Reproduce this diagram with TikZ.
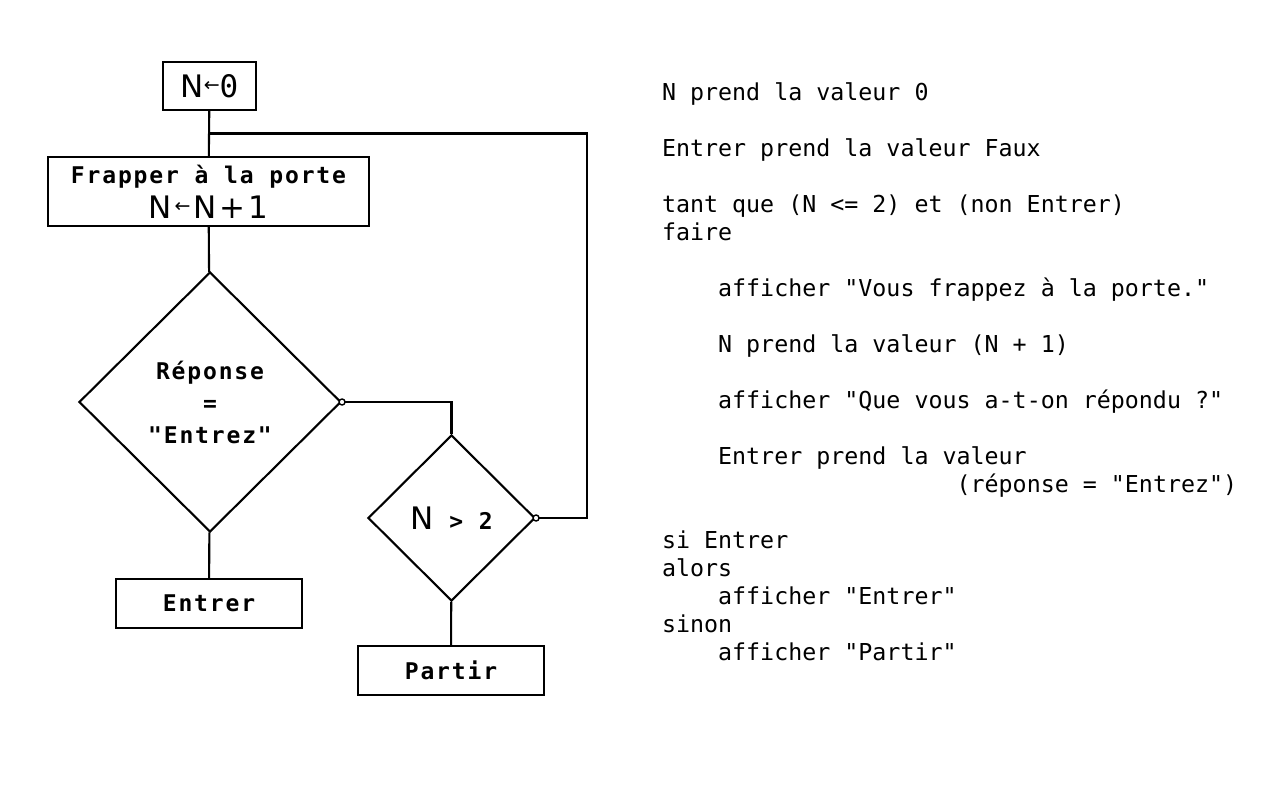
\documentclass[tikz,border=0pt]{standalone}
\usepackage{fontspec}
\setmainfont{DejaVu Sans}
\newfontfamily\codefont{DejaVu Sans Mono}
\newfontfamily\chartfont[LetterSpace=8]{DejaVu Sans Mono}
\usetikzlibrary{shapes.geometric, calc}

\newcommand{\bigfont}{\normalfont\fontsize{31}{32}\selectfont}
\newcommand{\bigN}{{\bigfont N}}
\newcommand{\assign}{\raisebox{6pt}{\normalfont\fontsize{19}{19}\selectfont ←}}
\newcommand{\ind}[1]{\hspace*{#1\fontcharwd\font`0}}

\begin{document}
\begin{tikzpicture}[x=1pt, y=-1pt, line width=2.1pt,
    box/.style={draw, rectangle, inner sep=0pt, align=center,
      font=\chartfont\bfseries\fontsize{23}{32}\selectfont},
    test/.style={draw, diamond, inner sep=0pt, align=center,
      font=\chartfont\bfseries\fontsize{23}{32}\selectfont}]
        \useasboundingbox (0,0) rectangle (1280,800);

        % Flowchart blocks
        \node[box, minimum width=93pt, minimum height=48pt] (init) at (209.5,86)
          {\bigN\assign{\codefont\mdseries\fontsize{31}{32}\selectfont 0}};
        \node[box, minimum width=321pt, minimum height=69pt] (knock) at (208.5,191.5)
          {Frapper à la porte\\[3pt]{\bigfont N\hspace{3pt}\assign\hspace{3pt}N\hspace{3pt}+\hspace{3pt}1}};
        \node[test, minimum width=262pt, minimum height=260pt] (reply) at (210,402)
          {Réponse\\=\\"Entrez"};
        \node[box, minimum width=186pt, minimum height=49pt] (enter) at (209,603.5) {Entrer};
        \node[test, minimum width=167pt, minimum height=166pt] (check) at (451.5,518)
          {\bigN{} > 2};
        \node[box, minimum width=186pt, minimum height=49pt] (leave) at (451,670.5) {Partir};

        % Connectors
        \coordinate (join) at ($(init.south)!0.5!(knock.north)$);
        \draw (init) -- (knock);
        \draw (knock) -- (reply);
        \draw (reply) -- (enter);
        \draw (check) -- (leave);
        \draw (reply.east) -| (check.north);
        \draw (check.east) -- ++(51,0) |- (join);

        % Small circles at the exits
        \filldraw[fill=white, line width=1.4pt] (reply.east) circle (3pt);
        \filldraw[fill=white, line width=1.4pt] (check.east) circle (3pt);

        % Pseudo-code
        \node[anchor=north west, inner sep=0pt, align=left,
          font=\codefont\fontsize{23.3}{28}\selectfont] (code) at (661,81.3)
          {N prend la valeur 0\\[28pt]
           Entrer prend la valeur Faux\\[28pt]
           tant que (N <= 2) et (non Entrer)\\
           faire\\[28pt]
           \ind{4}afficher "Vous frappez à la porte."\\[28pt]
           \ind{4}N prend la valeur (N + 1)\\[28pt]
           \ind{4}afficher "Que vous a-t-on répondu ?"\\[28pt]
           \ind{4}Entrer prend la valeur\\
           \ind{21}(réponse = "Entrez")\\[28pt]
           si Entrer\\
           alors\\
           \ind{4}afficher "Entrer"\\
           sinon\\
           \ind{4}afficher "Partir"};
      \end{tikzpicture}
\end{document}
